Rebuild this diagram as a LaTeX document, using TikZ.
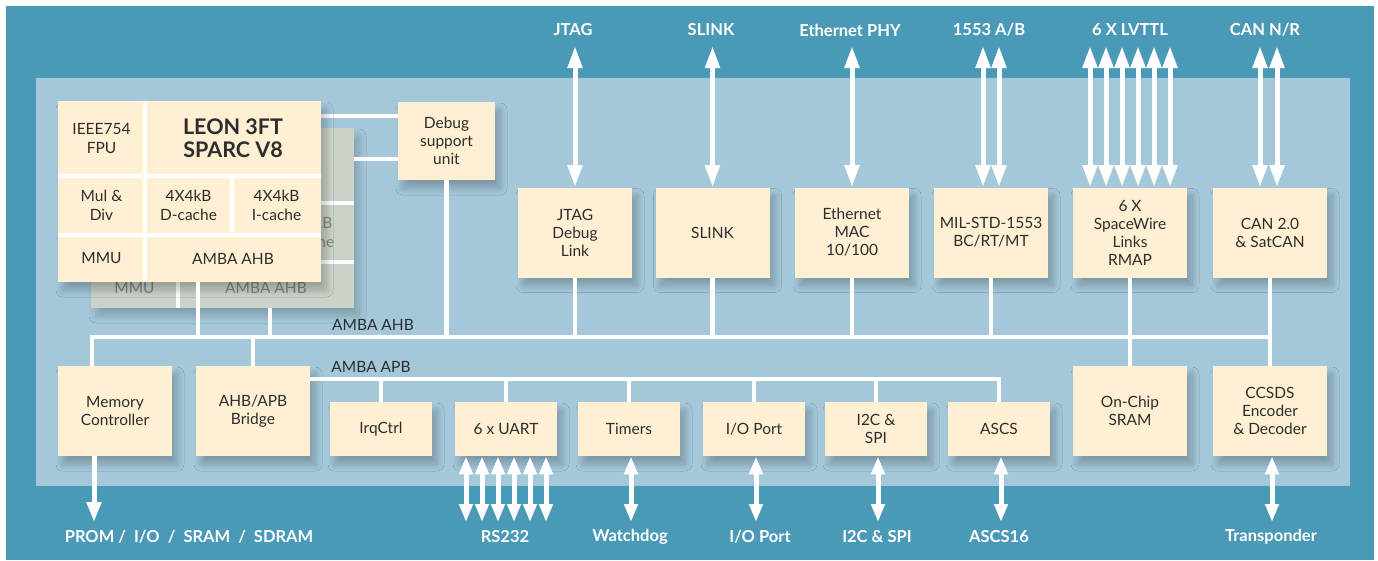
\documentclass[tikz,border=0pt]{standalone}
\usepackage{fontspec}
\setmainfont{Lato}
\usetikzlibrary{arrows.meta,calc,shadows.blur}

\definecolor{chipdark}{RGB}{74,154,183}
\definecolor{chiplight}{RGB}{164,200,218}
\definecolor{cream}{RGB}{255,240,212}
\definecolor{ink}{RGB}{45,45,45}
\definecolor{ghost}{RGB}{203,211,201}
\definecolor{ghostink}{RGB}{128,132,128}

\tikzset{every picture/.style={line width=0.75pt}}
\tikzset{
  softshadow/.style={blur shadow={shadow xshift=5pt, shadow yshift=-8pt, shadow blur radius=7pt,
    shadow blur steps=14, shadow opacity=#1}},
  softshadow/.default=24,
  blk/.style={fill=cream, text=ink, align=center, inner sep=0pt, font=\fontsize{15.5}{18}\selectfont, softshadow},
  bigblk/.style={blk, minimum width=114pt, minimum height=90pt},
  smallblk/.style={blk, minimum width=102pt, minimum height=54pt},
  cell/.style={text=ink, align=center, inner sep=0pt, font=\fontsize{15.5}{19}\selectfont},
  ghostcell/.style={cell, text=ghostink},
  bus/.style={draw=white, line width=4.5pt},
  iolabel/.style={text=white, font=\fontsize{16.5}{18}\selectfont\bfseries},
  busname/.style={text=ink, font=\fontsize{15.5}{18}\selectfont},
  biarr/.style={draw=white, line width=5pt, {Triangle[width=14pt,length=22pt]}-{Triangle[width=14pt,length=22pt]}},
  biarrs/.style={draw=white, line width=5pt, {Triangle[width=13pt,length=18pt]}-{Triangle[width=13pt,length=18pt]}},
  outarr/.style={draw=white, line width=5pt, -{Triangle[width=14pt,length=20pt]}}
}

\begin{document}
\begin{tikzpicture}[x=1pt,y=1pt,yscale=-1,xscale=1]
\useasboundingbox (0,0) rectangle (1378,560);

%Chip background
\fill[white] (0,0) rectangle (1378,560);
\fill[chipdark] (6,6) rectangle (1374,560);
\fill[chiplight] (36,78) rectangle (1350,486);

\coordinate (topend) at (0,46);
\coordinate (botend) at (0,522);
\coordinate (ahb) at (0,337);
\coordinate (apb) at (0,379);

% Text Node: outside signals
\node[iolabel] (ljtag) at (573,30) {JTAG};
\node[iolabel] (lslink) at (711,30) {SLINK};
\node[iolabel] (lphy) at (850,30) {Ethernet PHY};
\node[iolabel] (l1553) at (989,30) {1553 A/B};
\node[iolabel] (llvttl) at (1130,30) {6 X LVTTL};
\node[iolabel] (lcan) at (1265,30) {CAN N/R};
\node[iolabel] (lprom) at (189,537) {PROM /\ \ I/O\ \ /\ \ SRAM\ \ /\ \ SDRAM};
\node[iolabel] (lrs232) at (505,537) {RS232};
\node[iolabel] (lwdog) at (630,537) {Watchdog};
\node[iolabel] (lioport) at (760,537) {I/O Port};
\node[iolabel] (li2c) at (877,537) {I2C \& SPI};
\node[iolabel] (lascs) at (999,537) {ASCS16};
\node[iolabel] (ltransp) at (1271,537) {Transponder};

% Bus labels
\node[busname] (ahbname) at (373,325) {AMBA AHB};
\node[busname] (apbname) at (371,367) {AMBA APB};

%Second core (behind)
\node[fill=ghost, inner sep=0pt, minimum width=263pt, minimum height=180pt, softshadow=20] (core2) at (222.5,218) {};
\draw[bus] (91,203) -- (354,203);
\draw[bus] (91,262) -- (354,262);
\draw[bus] (178,128) -- (178,308);
\draw[bus] (265,203) -- (265,262);
\begin{scope}
  \clip (321,203) rectangle (354,262);
  \node[ghostcell, minimum width=89pt, minimum height=59pt] (ghosticache) at (309.5,232.5) {4X4kB\\I-cache};
\end{scope}
\node[ghostcell, minimum width=87pt, minimum height=46pt] (ghostmmu) at (134.5,288) {MMU};
\node[ghostcell, minimum width=176pt, minimum height=40pt] (ghostahb) at (266,288) {AMBA AHB};

% Top blocks
\node[bigblk] (jtag) at (575,232.5) {JTAG\\Debug\\Link};
\node[bigblk] (slink) at (712.5,232.5) {SLINK};
\node[bigblk] (eth) at (852,232.5) {Ethernet\\MAC\\10/100};
\node[bigblk] (mil) at (991,232.5) {MIL-STD-1553\\BC/RT/MT};
\node[bigblk] (spw) at (1130,232.5) {6 X\\SpaceWire\\Links\\RMAP};
\node[bigblk] (can) at (1270,232.5) {CAN 2.0\\\& SatCAN};
\node[blk, minimum width=97pt, minimum height=78pt] (dsu) at (446.5,141) {Debug\\support\\unit};

% Bottom blocks
\node[bigblk] (mem) at (115,411) {Memory\\Controller};
\node[bigblk] (bridge) at (253,411) {AHB/APB\\Bridge};
\node[smallblk] (irq) at (381,429) {IrqCtrl};
\node[smallblk] (uart) at (506,429) {6 x UART};
\node[smallblk] (timers) at (629,429) {Timers};
\node[smallblk] (ioport) at (754,429) {I/O Port};
\node[smallblk] (iic) at (876,429) {I2C \&\\SPI};
\node[smallblk] (ascs) at (999,429) {ASCS};
\node[bigblk] (sram) at (1130,411) {On-Chip\\SRAM};
\node[bigblk] (ccsds) at (1270,411) {CCSDS\\Encoder\\\& Decoder};

%AMBA AHB
\draw[bus] ($(mem.north)+(-23,0)$) |- (ahb -| ccsds.north) -- (ccsds.north);
\draw[bus] (bridge.north) -- (bridge.north |- ahb);
\foreach \n in {jtag,slink,eth,mil,dsu} \draw[bus] (\n.south) -- (\n.south |- ahb);
\draw[bus] (spw.south) -- (sram.north);
\draw[bus] (can.south) -- (ccsds.north);
\draw[bus] ($(ghostahb.south)+(4,0)$) -- ($(ghostahb.south |- ahb)+(4,0)$);
%AMBA APB
\draw[bus] ($(bridge.east)+(0,-32)$) -| (ascs.north);
\foreach \n in {irq,uart,timers,ioport,iic} \draw[bus] (\n.north) -- (\n.north |- apb);
%Debug links
\draw[bus] ($(dsu.west)+(0,-25)$) -- ($(dsu.west -| 321,0)+(0,-25)$);
\draw[bus] ($(dsu.west)+(0,18)$) -- ($(core2.east |- dsu.west)+(0,18)$);

%LEON core
\node[blk, minimum width=263pt, minimum height=181pt] (leon) at (189.5,191.5) {};
\draw[bus] (145,101) -- (145,282);
\draw[bus] (58,176) -- (321,176);
\draw[bus] (58,235) -- (321,235);
\draw[bus] (232,176) -- (232,235);
\node[cell, minimum width=87pt, minimum height=75pt] (fpu) at (101.5,138.5) {IEEE754\\FPU};
\node[cell, minimum width=176pt, minimum height=75pt, font=\fontsize{21.5}{23}\selectfont\bfseries] (title) at (233,138.5) {LEON 3FT\\SPARC V8};
\node[cell, minimum width=87pt, minimum height=59pt] (mul) at (101.5,205.5) {Mul \&\\Div};
\node[cell, minimum width=87pt, minimum height=59pt] (dcache) at (188.5,205.5) {4X4kB\\D-cache};
\node[cell, minimum width=89pt, minimum height=59pt] (icache) at (276.5,205.5) {4X4kB\\I-cache};
\node[cell, minimum width=87pt, minimum height=47pt] (mmu) at (101.5,258.5) {MMU};
\node[cell, minimum width=176pt, minimum height=47pt] (ahbif) at (233,258.5) {AMBA AHB};
\draw[bus] ($(ahbif.south)+(-35,0)$) -- ($(ahbif.south |- ahb)+(-35,0)$);

%Top arrows
\foreach \n in {jtag,slink,eth} \draw[biarr] (\n.north) -- (\n.north |- topend);
\foreach \dx in {-8,8} \draw[biarr] ($(mil.north)+(\dx,0)$) -- ($(mil.north |- topend)+(\dx,0)$);
\foreach \dx in {-40,-24,-8,8,24,40} \draw[biarr] ($(spw.north)+(\dx,0)$) -- ($(spw.north |- topend)+(\dx,0)$);
\foreach \dx in {-10,7} \draw[biarr] ($(can.north)+(\dx,0)$) -- ($(can.north |- topend)+(\dx,0)$);

%Bottom arrows
\draw[outarr] ($(mem.south)+(-21,0)$) -- ($(mem.south |- botend)+(-21,0)$);
\foreach \dx in {-40,-24,-8,8,24,40} \draw[biarrs] ($(uart.south)+(\dx,0)$) -- ($(uart.south |- botend)+(\dx,0)$);
\foreach \n in {timers,ioport,iic,ascs,ccsds} \draw[biarrs] ($(\n.south)+(2,0)$) -- ($(\n.south |- botend)+(2,0)$);

\end{tikzpicture}
\end{document}
